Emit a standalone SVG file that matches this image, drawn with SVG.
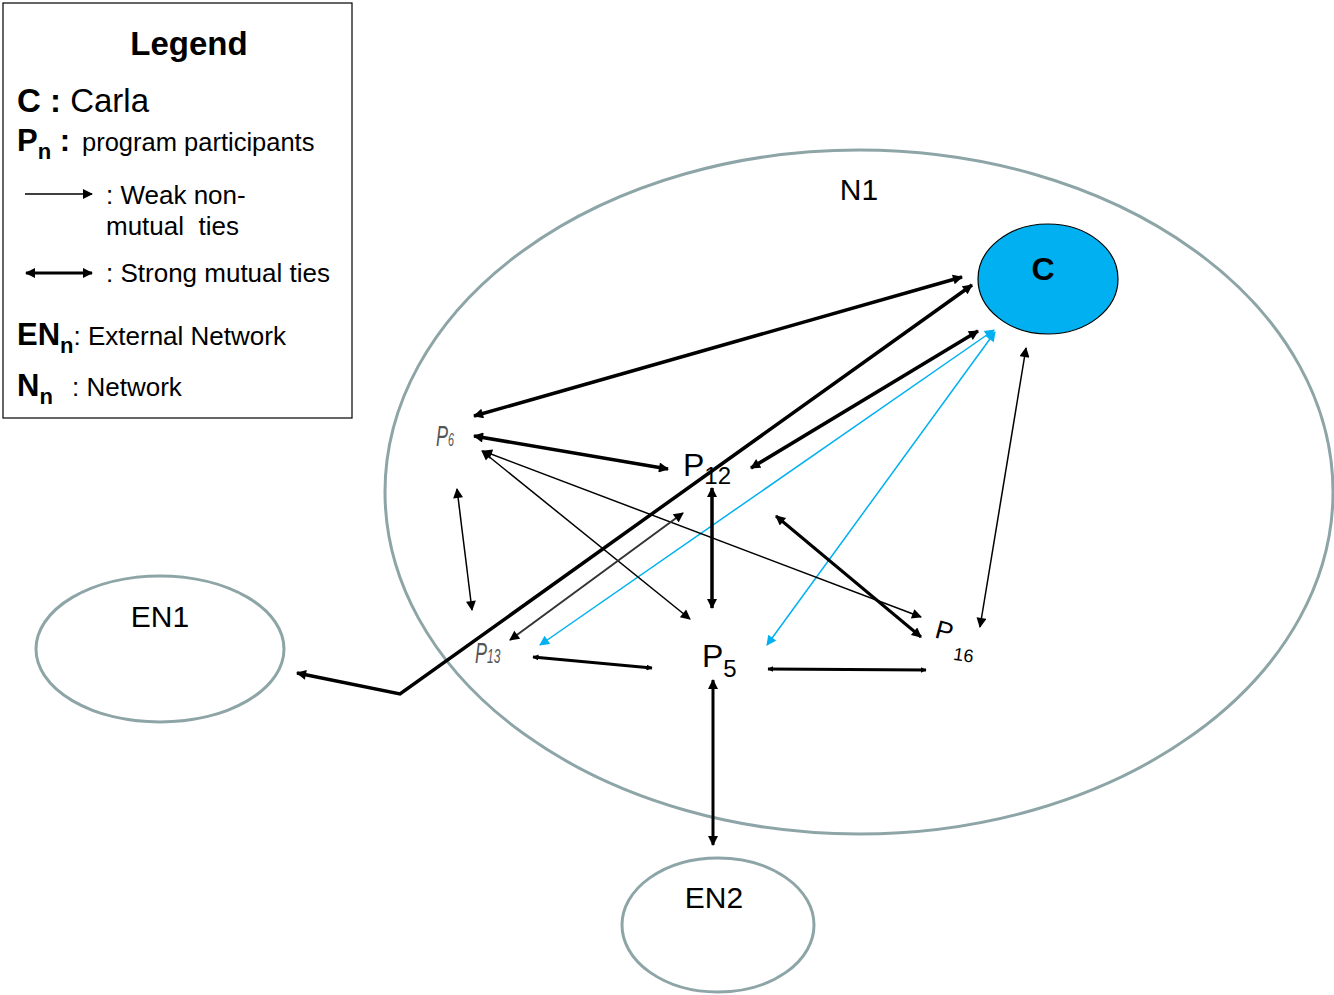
<svg xmlns="http://www.w3.org/2000/svg" width="1334" height="995" viewBox="0 0 1334 995">
<style>
text{font-family:"Liberation Sans",Arial,sans-serif;fill:#000}
.ring{fill:none;stroke:#8ea5a8;stroke-width:3}
.k{stroke:#000;fill:none}
.b{stroke:#00b0f0;fill:none;stroke-width:1.5}
.pg{fill:#555;font-style:italic}
</style>
<defs>
<marker id="ak" viewBox="0 0 10 10" refX="9" refY="5" markerWidth="6" markerHeight="6" markerUnits="userSpaceOnUse" orient="auto-start-reverse"><path d="M0,0L10,5L0,10z" fill="#000"/></marker>
<marker id="akL" viewBox="0 0 10 10" refX="9" refY="5" markerWidth="12" markerHeight="10" markerUnits="userSpaceOnUse" orient="auto-start-reverse"><path d="M0,0L10,5L0,10z" fill="#000"/></marker>
<marker id="ab" viewBox="0 0 10 10" refX="9" refY="5" markerWidth="12" markerHeight="10" markerUnits="userSpaceOnUse" orient="auto-start-reverse"><path d="M0,0L10,5L0,10z" fill="#00b0f0"/></marker>
</defs>
<g id="legend">
<rect x="3" y="3" width="349" height="415" fill="#fff" stroke="#000" stroke-width="1.2"/>
<text x="189" y="55" text-anchor="middle" font-size="33" font-weight="bold">Legend</text>
<text x="17" y="112" font-size="33"><tspan font-weight="bold">C :</tspan> Carla</text>
<text x="17" y="151" font-size="31" font-weight="bold">P<tspan font-size="22" dy="8">n</tspan><tspan dy="-8"> :</tspan></text>
<text x="82" y="151" font-size="25.5">program participants</text>
<line x1="25" y1="194" x2="92" y2="194" class="k" stroke-width="1.5" marker-end="url(#akL)"/>
<text x="106" y="204" font-size="26">: Weak non-</text>
<text x="106" y="235" font-size="26" xml:space="preserve">mutual  ties</text>
<line x1="26" y1="273" x2="92" y2="273" class="k" stroke-width="3" marker-start="url(#akL)" marker-end="url(#akL)"/>
<text x="106" y="282" font-size="26">: Strong mutual ties</text>
<text x="17" y="345" font-size="31" font-weight="bold">EN<tspan font-size="22" dy="8">n</tspan><tspan dy="-8" font-weight="normal" font-size="26">: External Network</tspan></text>
<text x="17" y="396" font-size="31" font-weight="bold">N<tspan font-size="22" dy="8">n</tspan></text>
<text x="72" y="396" font-size="26">: Network</text>
</g>
<g id="N1">
<ellipse cx="859" cy="492" rx="474" ry="342" class="ring"/>
<text x="859" y="200" text-anchor="middle" font-size="30">N1</text>
</g>
<g id="EN1">
<ellipse cx="160" cy="649" rx="124" ry="73" class="ring"/>
<text x="160" y="627" text-anchor="middle" font-size="30">EN1</text>
</g>
<g id="EN2">
<ellipse cx="718" cy="925" rx="96" ry="67" class="ring"/>
<text x="714" y="908" text-anchor="middle" font-size="30">EN2</text>
</g>
<g id="C">
<ellipse cx="1048" cy="279" rx="70" ry="55" fill="#00b0f0" stroke="#000" stroke-width="1.2"/>
<text x="1043" y="280" text-anchor="middle" font-size="32" font-weight="bold">C</text>
</g>
<g id="P6"><text x="436" y="446" font-size="30" class="pg" transform="translate(436,446) scale(0.6,1) translate(-436,-446)">P<tspan font-size="18">6</tspan></text></g>
<g id="P12"><text x="683" y="476" font-size="32">P<tspan font-size="24" dy="8">12</tspan></text></g>
<g id="P5"><text x="702" y="667" font-size="32">P<tspan font-size="24" dy="10">5</tspan></text></g>
<g id="P13"><text x="475" y="663" font-size="30" class="pg" transform="translate(475,663) scale(0.6,1) translate(-475,-663)">P<tspan font-size="20">13</tspan></text></g>
<g id="P16"><text x="936" y="640" font-size="26" fill="#333" transform="rotate(15 945 630)">P</text><text x="954" y="661" font-size="18" fill="#333" transform="rotate(8 962 652)">16</text></g>
<g id="connectors">
<line x1="962" y1="277" x2="474" y2="416" class="k" stroke-width="3.5" marker-start="url(#akL)" marker-end="url(#akL)"/>
<polyline points="972,285 400,694 297,673" class="k" stroke-width="3.5" marker-start="url(#akL)" marker-end="url(#akL)"/>
<line x1="978" y1="331" x2="751" y2="468" class="k" stroke-width="3.5" marker-start="url(#akL)" marker-end="url(#akL)"/>
<line x1="994" y1="330" x2="540" y2="645" class="b" marker-start="url(#ab)" marker-end="url(#ab)"/>
<line x1="995" y1="332" x2="767" y2="645" class="b" marker-start="url(#ab)" marker-end="url(#ab)"/>
<line x1="1026" y1="348" x2="980" y2="627" class="k" stroke-width="1.5" marker-start="url(#akL)" marker-end="url(#akL)"/>
<line x1="474" y1="436" x2="668" y2="469" class="k" stroke-width="3.5" marker-start="url(#akL)" marker-end="url(#akL)"/>
<line x1="482" y1="451" x2="690" y2="619" class="k" stroke-width="1.5" marker-start="url(#akL)" marker-end="url(#akL)"/>
<line x1="483" y1="451" x2="921" y2="617" class="k" stroke-width="1.5" marker-start="url(#akL)" marker-end="url(#akL)"/>
<line x1="457" y1="489" x2="472" y2="610" class="k" stroke-width="1.5" marker-start="url(#akL)" marker-end="url(#akL)"/>
<line x1="712" y1="488" x2="712" y2="608" class="k" stroke-width="3.5" marker-start="url(#akL)" marker-end="url(#akL)"/>
<line x1="683" y1="513" x2="510" y2="640" stroke="#333" stroke-width="2" marker-start="url(#akL)" marker-end="url(#akL)"/>
<line x1="776" y1="516" x2="921" y2="637" class="k" stroke-width="3" marker-start="url(#akL)" marker-end="url(#akL)"/>
<line x1="533" y1="657" x2="652" y2="668" class="k" stroke-width="3" marker-start="url(#ak)" marker-end="url(#ak)"/>
<line x1="768" y1="669" x2="926" y2="670" class="k" stroke-width="3" marker-start="url(#ak)" marker-end="url(#ak)"/>
<line x1="713" y1="680" x2="713" y2="845" class="k" stroke-width="3" marker-start="url(#akL)" marker-end="url(#akL)"/>
</g>
</svg>
